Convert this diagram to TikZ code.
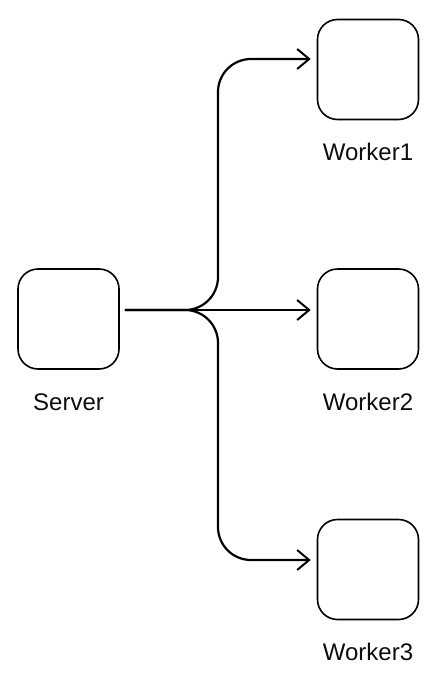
\documentclass[tikz,border=0pt]{standalone}
\usepackage{fontspec}
\setmainfont{Liberation Sans}
\usetikzlibrary{arrows.meta}
\begin{document}
\begin{tikzpicture}[x=1pt,y=-1pt,
  box/.style={draw,line width=1.6pt,rounded corners=20pt,minimum width=101pt,minimum height=100pt,inner sep=0pt},
  lbl/.style={anchor=base,font=\fontsize{24}{28}\selectfont,text=black!95},
  conn/.style={line width=2.2pt,rounded corners=33pt,-{Straight Barb[length=12pt,width=20pt,line width=2pt]}}]
\useasboundingbox (0,0) rectangle (440,696);
\node[box] (server) at (68.5,319) {};
\node[box] (w1) at (368,69.5) {};
\node[box] (w2) at (368,319) {};
\node[box] (w3) at (368,569.5) {};
\node[lbl] (lserver) at (68.5,410) {Server};
\node[lbl] (lw1) at (368,160) {Worker1};
\node[lbl] (lw2) at (368,410) {Worker2};
\node[lbl] (lw3) at (368,660) {Worker3};
\coordinate (s) at ([xshift=5pt,yshift=9pt]server.east);
\coordinate (t1) at ([xshift=-6pt,yshift=10.5pt]w1.west);
\coordinate (t2) at ([xshift=-6pt,yshift=9pt]w2.west);
\coordinate (t3) at ([xshift=-6pt,yshift=9.5pt]w3.west);
\draw[conn] (s) -- (218,310) -- (218,59) -- (t1);
\draw[conn] (s) -- (t2);
\draw[conn] (s) -- (218,310) -- (218,560) -- (t3);
\end{tikzpicture}
\end{document}
